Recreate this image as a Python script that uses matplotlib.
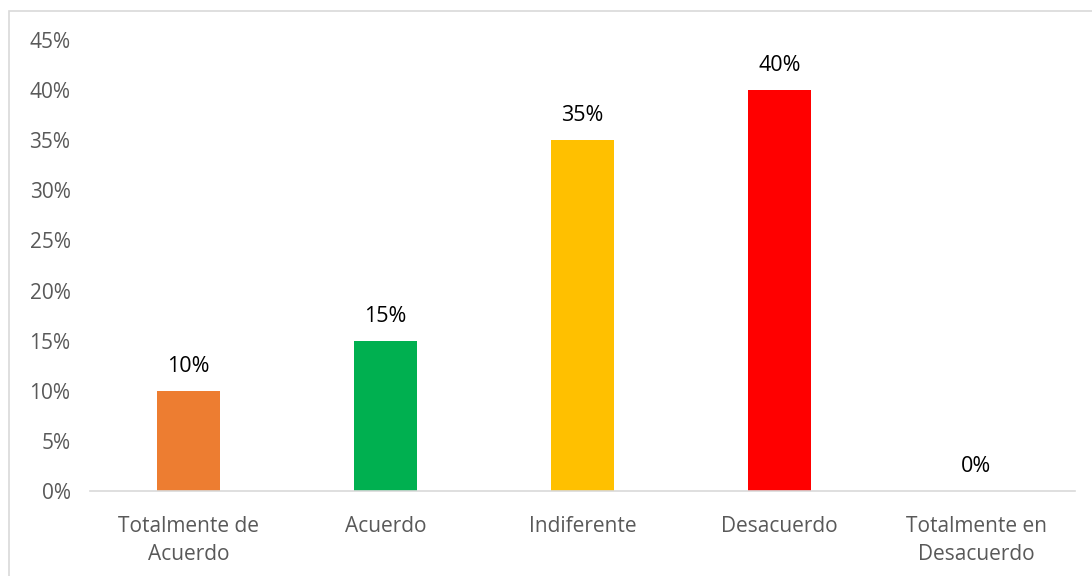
import matplotlib.pyplot as plt
from matplotlib.patches import Rectangle
from matplotlib.ticker import FuncFormatter

categorias = ["Totalmente de\nAcuerdo", "Acuerdo", "Indiferente", "Desacuerdo", "Totalmente en\nDesacuerdo"]
valores = [0.10, 0.15, 0.35, 0.40, 0.00]
colores = ["#ED7D31", "#00B050", "#FFC000", "#FF0000", "#4472C4"]
ticks_y = [0, 0.05, 0.10, 0.15, 0.20, 0.25, 0.30, 0.35, 0.40, 0.45]

plt.rcParams['font.family'] = ['Open Sans', 'DejaVu Sans']

fig = plt.figure(figsize=(10.92, 5.76), dpi=100)
fig.patches.append(Rectangle((9/1092, -0.1), 1.2, 1 - 11/576 + 0.1, transform=fig.transFigure,
                             fill=False, edgecolor="#d9d9d9", linewidth=1.2))
ax = fig.add_axes([90/1092, 1 - 491/576, 985/1092, (491 - 40)/576])

x = range(len(categorias))
barras = ax.bar(x, valores, width=0.315, color=colores)
for xi, v in zip(x, valores):
    ax.text(xi, v + 0.014, f"{v*100:.0f}%", ha="center", va="bottom", fontsize=15.5, color="black")

ax.set_xlim(-0.5, len(categorias) - 0.5)
ax.set_ylim(0, 0.45)
ax.set_yticks(ticks_y)
ax.yaxis.set_major_formatter(FuncFormatter(lambda v, p: f"{v*100:.0f}%"))
ax.set_xticks(list(x))
ax.set_xticklabels(categorias, fontsize=15, color="#595959", linespacing=1.45)
ax.tick_params(axis="y", labelsize=15, labelcolor="#595959", length=0, pad=14)
ax.tick_params(axis="x", length=0, pad=18)
for s in ["top", "right", "left"]:
    ax.spines[s].set_visible(False)
ax.spines["bottom"].set_color("#d9d9d9")
ax.spines["bottom"].set_linewidth(1.2)

fig.savefig("out.png", dpi=100)
